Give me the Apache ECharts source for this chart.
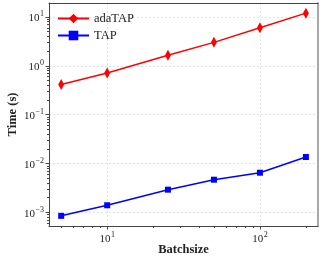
<!DOCTYPE html>
<html>
<head>
<meta charset="utf-8">
<script src="https://cdn.jsdelivr.net/npm/echarts@6/dist/echarts.min.js"></script>
<style>html,body{margin:0;padding:0;background:#fff}#c{width:333px;height:257px}</style>
</head>
<body>
<div id="c"></div>
<script>
const batchsizes = [5, 10, 25, 50, 100, 200];
const adaTAP = [0.413, 0.713, 1.64, 3.02, 6.02, 11.96];
const TAP = [0.00085, 0.00140, 0.00292, 0.00467, 0.00649, 0.0136];
const xMajorTicks = [10, 100];
const xMinorTicks = [5, 6, 7, 8, 9, 20, 30, 40, 50, 60, 70, 80, 90, 200];
const yMajorTicks = [0.001, 0.01, 0.1, 1, 10];
const yMinorTicks = [];
[0.0001, 0.001, 0.01, 0.1, 1, 10].forEach(d => { for (let k = 2; k <= 9; k++) yMinorTicks.push(+(d * k).toPrecision(3)); });

const FONT = '"Liberation Serif", "DejaVu Serif", serif';
const xMin = 4.16, xMax = 240, yMin = 5.27e-4, yMax = 19.3;

function powLabel(v) {
  const e = Math.round(Math.log10(v));
  return '{b|10}{s|' + (e < 0 ? '\u2212' + (-e) : e) + '}';
}
const rich = {
  b: { fontFamily: FONT, fontSize: 11, color: '#222', lineHeight: 14, verticalAlign: 'bottom' },
  s: { fontFamily: FONT, fontSize: 8, color: '#222', lineHeight: 14, verticalAlign: 'top', padding: [0, 0, 0, 0.5] }
};

const chart = echarts.init(document.getElementById('c'), null, { renderer: 'canvas' });
chart.setOption({
  animation: false,
  backgroundColor: '#fff',
  grid: { left: 49, right: 15, top: 3, bottom: 31, containLabel: false, outerBoundsMode: 'none' },
  legend: {
    left: 57, top: 12, orient: 'vertical', itemWidth: 31, itemHeight: 12, itemGap: 4, padding: 0,
    textStyle: { fontFamily: FONT, fontSize: 12.5, color: '#222' },
    data: ['adaTAP', 'TAP']
  },
  xAxis: [
    {
      type: 'log', logBase: 10, min: xMin, max: xMax, position: 'bottom',
      name: 'Batchsize', nameLocation: 'middle', nameGap: 17, nameMoveOverlap: false,
      nameTextStyle: { fontFamily: FONT, fontSize: 12.5, fontWeight: 'bold', color: '#222' },
      axisLine: { show: true, lineStyle: { color: '#444', width: 1 } },
      axisTick: { show: true, customValues: xMajorTicks, length: 3.5, lineStyle: { color: '#444' } },
      axisLabel: { show: true, customValues: xMajorTicks, margin: 5, formatter: powLabel, rich: rich },
      splitLine: { show: true, lineStyle: { color: '#dcdcdc', type: [2, 2], width: 0.8 } }
    },
    {
      type: 'log', logBase: 10, min: xMin, max: xMax, position: 'bottom',
      axisLine: { show: false },
      axisTick: { show: true, customValues: xMinorTicks, length: 2, lineStyle: { color: '#444' } },
      axisLabel: { show: false }, splitLine: { show: false }
    },
    {
      type: 'log', logBase: 10, min: xMin, max: xMax, position: 'top',
      axisLine: { show: true, lineStyle: { color: '#444', width: 1 } },
      axisTick: { show: false }, axisLabel: { show: false }, splitLine: { show: false }
    }
  ],
  yAxis: [
    {
      type: 'log', logBase: 10, min: yMin, max: yMax, position: 'left',
      name: 'Time (s)', nameLocation: 'middle', nameGap: 30, nameRotate: 90, nameMoveOverlap: false,
      nameTextStyle: { fontFamily: FONT, fontSize: 12.5, fontWeight: 'bold', color: '#222' },
      axisLine: { show: true, lineStyle: { color: '#444', width: 1 } },
      axisTick: { show: true, customValues: yMajorTicks, length: 3.5, lineStyle: { color: '#444' } },
      axisLabel: { show: true, customValues: yMajorTicks, margin: 5, formatter: powLabel, rich: rich },
      splitLine: { show: true, lineStyle: { color: '#dcdcdc', type: [2, 2], width: 0.8 } }
    },
    {
      type: 'log', logBase: 10, min: yMin, max: yMax, position: 'left',
      axisLine: { show: false },
      axisTick: { show: true, customValues: yMinorTicks.filter(v => v > yMin && v < yMax), length: 2, lineStyle: { color: '#444' } },
      axisLabel: { show: false }, splitLine: { show: false }
    },
    {
      type: 'log', logBase: 10, min: yMin, max: yMax, position: 'right',
      axisLine: { show: true, lineStyle: { color: '#a8a8a8', width: 2 } },
      axisTick: { show: false }, axisLabel: { show: false }, splitLine: { show: false }
    }
  ],
  series: [
    {
      name: 'adaTAP', type: 'line', xAxisIndex: 0, yAxisIndex: 0,
      data: batchsizes.map((b, i) => [b, adaTAP[i]]),
      symbol: 'diamond', symbolSize: [6, 11], showSymbol: true,
      lineStyle: { color: '#ff0000', width: 1.5 }, itemStyle: { color: '#ff0000' }
    },
    {
      name: 'TAP', type: 'line', xAxisIndex: 0, yAxisIndex: 0,
      data: batchsizes.map((b, i) => [b, TAP[i]]),
      symbol: 'rect', symbolSize: 6, showSymbol: true,
      lineStyle: { color: '#0000ff', width: 1.5 }, itemStyle: { color: '#0000ff' }
    }
  ]
});
</script>
</body>
</html>
